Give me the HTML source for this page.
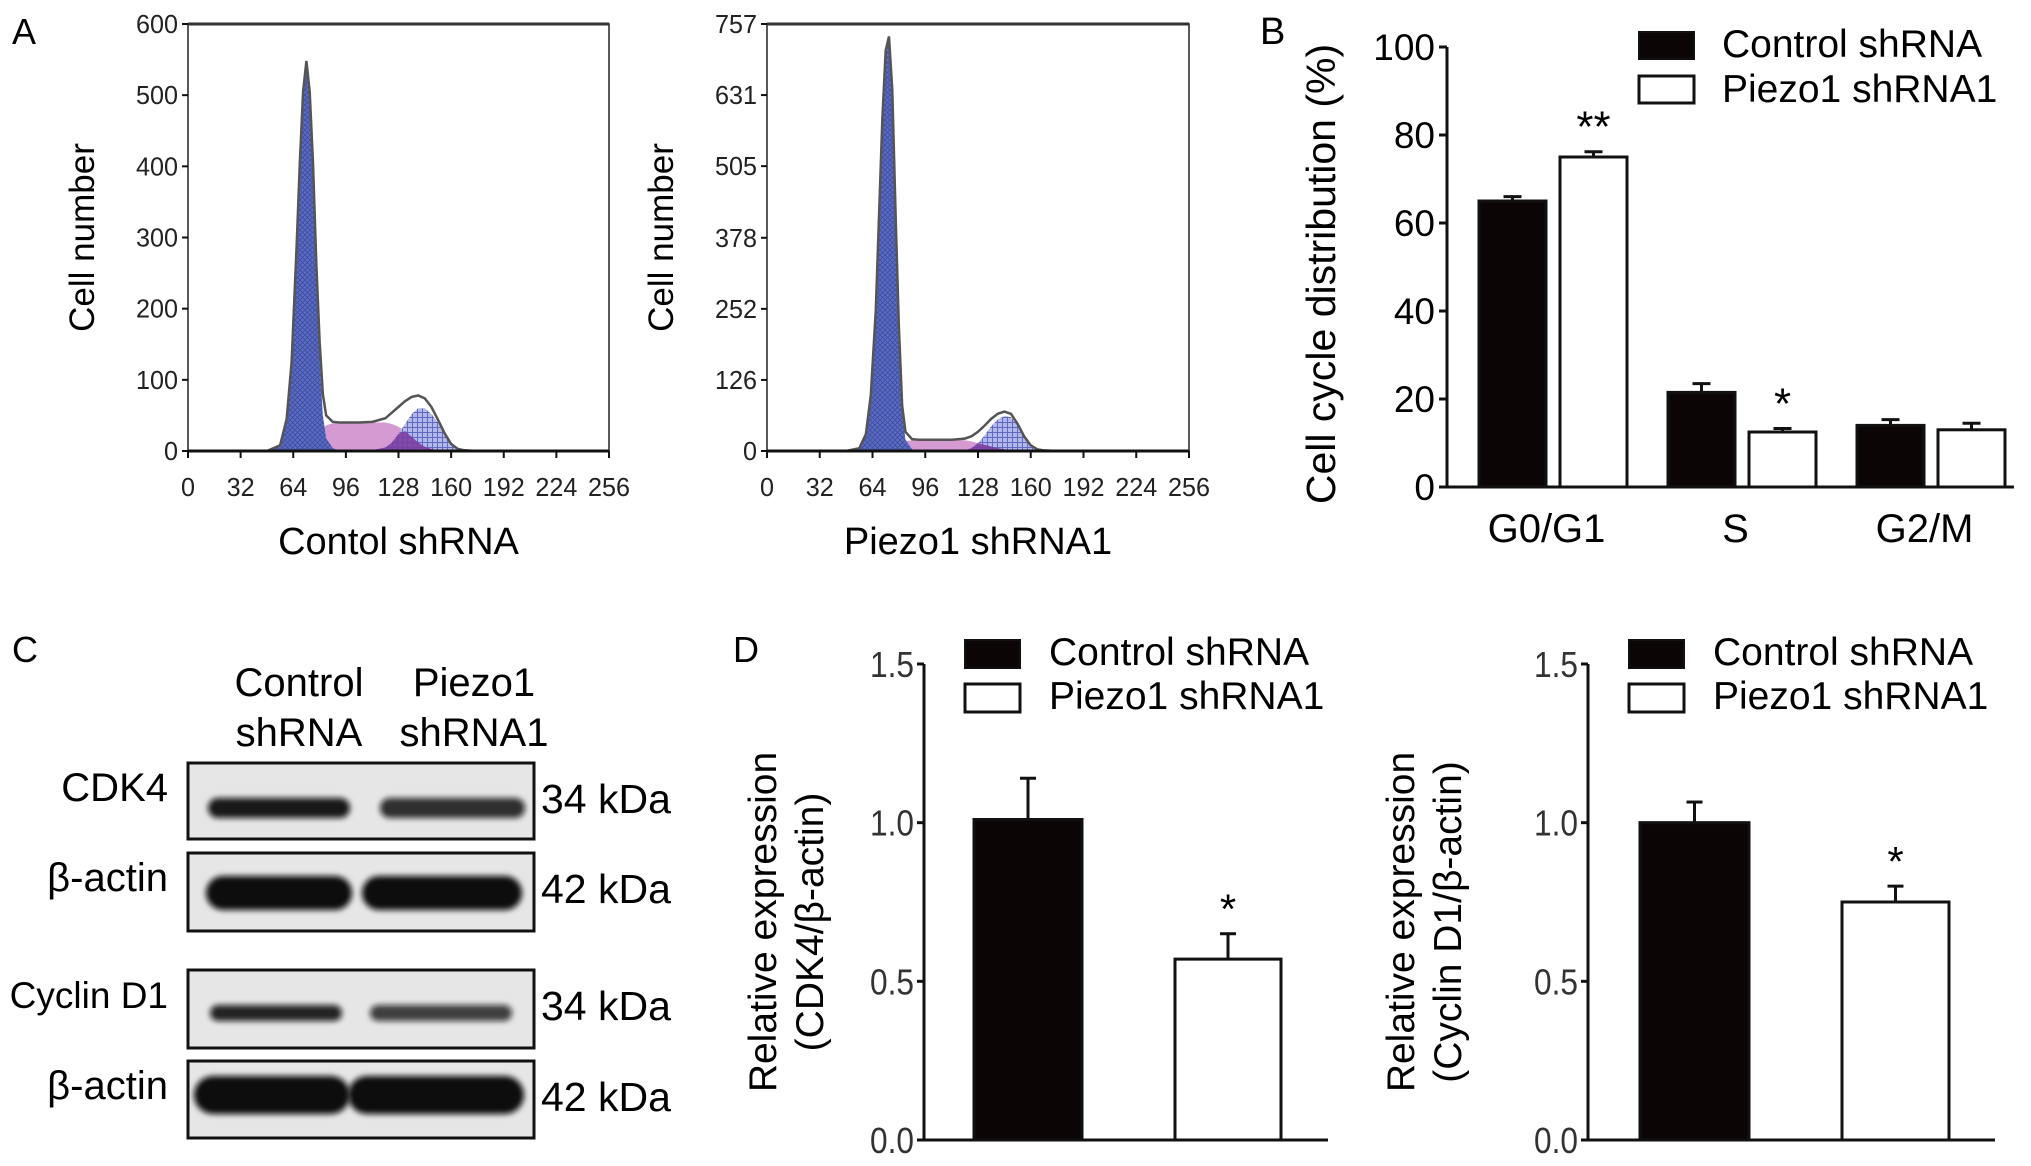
<!DOCTYPE html>
<html><head><meta charset="utf-8"><style>
html,body{margin:0;padding:0;background:#fff;}
svg{display:block;font-family:"Liberation Sans",Arial,sans-serif;}
</style></head><body>
<svg id="fig" width="2031" height="1166" viewBox="0 0 2031 1166" xmlns="http://www.w3.org/2000/svg">
<defs>
<pattern id="hatch" width="5" height="5" patternUnits="userSpaceOnUse"><rect width="5" height="5" fill="#5c6cc4"/><path d="M0 0L5 5M5 0L0 5" stroke="#3e4c9e" stroke-width="0.8"/></pattern>
<pattern id="hatch2" width="5" height="5" patternUnits="userSpaceOnUse"><rect width="5" height="5" fill="#b3b8ea"/><path d="M0 2.5H5M2.5 0V5" stroke="#6068c0" stroke-width="1"/></pattern>
<filter id="blur" x="-20%" y="-100%" width="140%" height="300%"><feGaussianBlur stdDeviation="3"/></filter>
</defs>
<g id="panelA"></g>
<g id="panelB"></g>
<g id="panelC"></g>
<g id="panelD"></g>
</svg>
<script>
// ---------- Panel A data ----------
const channels = [48,56,60,63,66,68,70,72,74,76,78,80,82,84,88,92,96,104,112,120,124,128,132,136,140,144,148,152,156,160,164,168,176,256];
const totalL = [0,8,45,125,285,405,505,548,505,405,265,155,80,50,41,40,40,40,41,46,54,62,70,76,78,74,62,44,25,10,3,1,0,0];
const g1L    = [0,8,45,125,285,405,505,545,495,390,245,130,50,18,4,0,0,0,0,0,0,0,0,0,0,0,0,0,0,0,0,0,0,0];
const sL     = [0,0,0,1,2,4,7,10,14,18,22,26,32,36,39,40,40,40,40,40,38,34,28,20,12,6,3,1,0,0,0,0,0,0];
const g2L    = [0,0,0,0,0,0,0,0,0,0,0,0,0,0,0,0,0,0,1,5,12,24,38,52,60,60,52,40,24,10,3,1,0,0];
const totalR = [0,5,30,100,250,420,590,710,735,640,420,220,80,34,21,20,20,20,20,22,26,34,45,57,66,70,66,48,26,10,3,1,0,0];
const g1R    = [0,5,30,100,250,420,590,705,728,630,405,205,65,20,3,0,0,0,0,0,0,0,0,0,0,0,0,0,0,0,0,0,0,0];
const sR     = [0,0,0,1,1,2,3,5,7,9,11,13,15,17,19,20,20,20,20,19,17,14,11,8,5,3,1,0,0,0,0,0,0,0];
const g2R    = [0,0,0,0,0,0,0,0,0,0,0,0,0,0,0,0,0,0,0,1,5,14,28,44,56,62,60,46,26,10,3,1,0,0];
const xTicksA = [0,32,64,96,128,160,192,224,256];
const yTicksL = [0,100,200,300,400,500,600];
const yTicksR = [0,126,252,378,505,631,757];
// ---------- Panel B data ----------
const phases = ["G0/G1","S","G2/M"];
const ctrlB = [65,21.5,14];
const ctrlBErr = [1,2,1.3];
const piezoB = [75,12.5,13];
const piezoBErr = [1.2,0.8,1.5];
const sigB = ["**","*",""];
const yTicksB = [0,20,40,60,80,100];
// ---------- Panel D data ----------
const dValsCdk4 = [1.01,0.57];
const dErrCdk4 = [0.13,0.08];
const dValsCyc = [1.0,0.75];
const dErrCyc = [0.065,0.05];
const yTicksD = [0.0,0.5,1.0,1.5];
const yTickLabelsD = ["0.0","0.5","1.0","1.5"];

const NS="http://www.w3.org/2000/svg";
function mk(parent,tag,attrs,text){const e=document.createElementNS(NS,tag);for(const k in attrs)e.setAttribute(k,attrs[k]);if(text!==undefined)e.textContent=text;parent.appendChild(e);return e;}

// ---------- Panel A ----------
const A=document.getElementById('panelA');
const lblA=mk(A,'text',{x:12,y:44,'font-size':36},'A');

function histo(x0,x1,y0,y1,ymax,yt,tot,g1,s,g2,title,key){
  const g=mk(A,'g',{});
  
  const sx=c=>x0+(c/256)*(x1-x0);
  const sy=v=>y1-(v/ymax)*(y1-y0);
  const area=(arr,fill,op,name)=>{let d='M'+sx(channels[0])+' '+sy(0);channels.forEach((c,i)=>{d+=' L'+sx(c)+' '+sy(arr[i]);});d+=' L'+sx(channels[channels.length-1])+' '+sy(0)+'Z';
    const p=mk(g,'path',{d:d,fill:fill,'fill-opacity':op,stroke:'none'});return p;};
  area(s,'#d59ad2',1,'s-phase-area');
  area(g2,'url(#hatch2)',1,'g2-phase-area');
  const ov=s.map((v,i)=>Math.min(v,g2[i]));
  area(ov,'#7b3da3',0.9,'s-g2-overlap');
  area(g1,'url(#hatch)',1,'g1-phase-area');
  let d='';channels.forEach((c,i)=>{d+=(i?' L':'M')+sx(c)+' '+sy(tot[i]);});
  const ln=mk(g,'path',{d:d,fill:'none',stroke:'#555',"stroke-width":2.5});
  
  mk(g,'rect',{x:x0,y:y0,width:x1-x0,height:y1-y0,fill:'none',stroke:'#222','stroke-width':1.5});
  mk(g,'line',{x1:x0,y1:y0,x2:x1,y2:y0,stroke:'#333','stroke-width':3});
  mk(g,'line',{x1:x0,y1:y1,x2:x1,y2:y1,stroke:'#111','stroke-width':3});
  xTicksA.forEach(t=>{mk(g,'line',{x1:sx(t),y1:y1,x2:sx(t),y2:y1+7,stroke:'#111','stroke-width':2});
    const tx=mk(g,'text',{x:sx(t),y:y1+45,'font-size':26,'text-anchor':'middle',fill:'#222',textLength:String(t).length*14,lengthAdjust:'spacingAndGlyphs'},String(t));
    });
  yt.forEach(t=>{mk(g,'line',{x1:x0-6,y1:sy(t),x2:x0,y2:sy(t),stroke:'#111','stroke-width':2});
    const tx=mk(g,'text',{x:x0-10,y:sy(t)+9,'font-size':26,'text-anchor':'end',fill:'#222',textLength:String(t).length*14,lengthAdjust:'spacingAndGlyphs'},String(t));
    });
  const yl=mk(g,'text',{x:0,y:0,'font-size':35,'text-anchor':'middle',transform:`translate(${x0-94},${(y0+y1)/2}) rotate(-90)`},'Cell number');
  
  const xt=mk(g,'text',{x:(x0+x1)/2,y:y1+103,'font-size':38,'text-anchor':'middle'},title);
  
}
histo(188,609,24,451,600,yTicksL,totalL,g1L,sL,g2L,'Contol shRNA','control');
histo(767,1189,24,451,757,yTicksR,totalR,g1R,sR,g2R,'Piezo1 shRNA1','piezo1');

// ---------- Panel B ----------
const B=document.getElementById('panelB');
const lblB=mk(B,'text',{x:1260,y:44,'font-size':38},'B');

(function(){
  const x0=1447,x1=2014,y0=47,y1=487,ymax=100;
  const sy=v=>y1-(v/ymax)*(y1-y0);
  const groupW=(x1-x0)/3, bw=67;
  phases.forEach((p,i)=>{
    const gx=x0+i*groupW;
    const cx=gx+32, px=gx+113;
    [[cx,ctrlB[i],ctrlBErr[i],'#0c0506','control'],[px,piezoB[i],piezoBErr[i],'#fff','piezo1']].forEach(([bx,v,e,fill,nm],j)=>{
      mk(B,'line',{x1:bx+bw/2,y1:sy(v),x2:bx+bw/2,y2:sy(v+e),stroke:'#111','stroke-width':3});
      mk(B,'line',{x1:bx+bw/2-9,y1:sy(v+e),x2:bx+bw/2+9,y2:sy(v+e),stroke:'#111','stroke-width':3});
      const r=mk(B,'rect',{x:bx,y:sy(v),width:bw,height:y1-sy(v),fill:fill,stroke:'#111','stroke-width':3});
      
      if(j===1&&sigB[i]){const s=mk(B,'text',{x:bx+bw/2,y:sy(v+e)-10,'font-size':44,'text-anchor':'middle'},sigB[i]);
        }
    });
    const t=mk(B,'text',{x:gx+groupW/2+5,y:542,'font-size':40,'text-anchor':'middle'},p);
    
  });
  mk(B,'line',{x1:x0,y1:y0,x2:x0,y2:y1,stroke:'#111','stroke-width':3});
  mk(B,'line',{x1:x0,y1:y1,x2:x1,y2:y1,stroke:'#111','stroke-width':3});
  yTicksB.forEach(t=>{mk(B,'line',{x1:x0-8,y1:sy(t),x2:x0,y2:sy(t),stroke:'#111','stroke-width':3});
    const tx=mk(B,'text',{x:x0-12,y:sy(t)+13,'font-size':37,'text-anchor':'end'},String(t));
    });
  const yl=mk(B,'text',{x:0,y:0,'font-size':41,'text-anchor':'middle',transform:`translate(1335,${(y0+y1)/2+7}) rotate(-90)`},'Cell cycle distribution (%)');
  
  const l1=mk(B,'rect',{x:1639,y:32,width:55,height:27,fill:'#0c0506',stroke:'#111','stroke-width':2});
  
  const l2=mk(B,'rect',{x:1639,y:76,width:55,height:27,fill:'#fff',stroke:'#111','stroke-width':3});
  
  const t1=mk(B,'text',{x:1722,y:57,'font-size':39},'Control shRNA');
  
  const t2=mk(B,'text',{x:1722,y:102,'font-size':39},'Piezo1 shRNA1');
  
})();

// ---------- Panel C ----------
const C=document.getElementById('panelC');
const lblC=mk(C,'text',{x:12,y:662,'font-size':36},'C');

[['Control',299,696],['shRNA',299,746],['Piezo1',474,696],['shRNA1',474,746]].forEach(([t,x,y])=>{
  const e=mk(C,'text',{x:x,y:y,'font-size':40,'text-anchor':'middle'},t);
  });
const blots=[
  {name:'CDK4',kda:'34 kDa',y:763,h:76,band:808,th:20,fs:40,a:[208,350,0.95],b:[380,525,0.85]},
  {name:'β-actin',kda:'42 kDa',y:853,h:78,band:893,th:34,fs:40,a:[206,352,1],b:[362,522,1]},
  {name:'Cyclin D1',kda:'34 kDa',y:970,h:78,band:1013,th:16,fs:37,a:[210,342,0.9],b:[370,512,0.78]},
  {name:'β-actin',kda:'42 kDa',y:1061,h:77,band:1095,th:38,fs:40,a:[194,350,1],b:[348,524,1]}
];
blots.forEach(bl=>{
  const g=mk(C,'g',{});
  
  
  mk(g,'rect',{x:188,y:bl.y,width:346,height:bl.h,fill:'#e6e6e6'});
  [bl.a,bl.b].forEach(([xa,xb,op])=>{
    mk(g,'rect',{x:xa,y:bl.band-bl.th/2,width:xb-xa,height:bl.th,rx:bl.th/2,fill:'#0a0a0a','fill-opacity':op,filter:'url(#blur)'});
  });
  mk(g,'rect',{x:188,y:bl.y,width:346,height:bl.h,fill:'none',stroke:'#111','stroke-width':3});
  const l=mk(g,'text',{x:168,y:bl.y+38,'font-size':bl.fs,'text-anchor':'end'},bl.name);
  
  const k=mk(g,'text',{x:541,y:bl.y+50,'font-size':41},bl.kda);
  
});

// ---------- Panel D ----------
const D=document.getElementById('panelD');
const lblD=mk(D,'text',{x:733,y:662,'font-size':36},'D');

function dchart(x0,x1,bars,vals,errs,t1,t2,tx1,tx2,lx,key){
  const g=mk(D,'g',{});
  
  const y0=664,y1=1140,ymax=1.5;
  const sy=v=>y1-(v/ymax)*(y1-y0);
  vals.forEach((v,i)=>{
    const [bx,bw]=bars[i];const e=errs[i];
    mk(g,'line',{x1:bx+bw/2,y1:sy(v),x2:bx+bw/2,y2:sy(v+e),stroke:'#111','stroke-width':3});
    mk(g,'line',{x1:bx+bw/2-8,y1:sy(v+e),x2:bx+bw/2+8,y2:sy(v+e),stroke:'#111','stroke-width':3});
    const r=mk(g,'rect',{x:bx,y:sy(v),width:bw,height:y1-sy(v),fill:i?'#fff':'#0c0506',stroke:'#111','stroke-width':3});
    
    if(i===1){const s=mk(g,'text',{x:bx+bw/2,y:sy(v+e)-10,'font-size':42,'text-anchor':'middle'},'*');
      }
  });
  mk(g,'line',{x1:x0,y1:y0,x2:x0,y2:y1,stroke:'#111','stroke-width':3});
  mk(g,'line',{x1:x0,y1:y1,x2:x1,y2:y1,stroke:'#111','stroke-width':3});
  yTicksD.forEach((t,i)=>{mk(g,'line',{x1:x0-7,y1:sy(t),x2:x0,y2:sy(t),stroke:'#111','stroke-width':3});
    const tx=mk(g,'text',{x:x0-10,y:sy(t)+13,'font-size':36,'text-anchor':'end',fill:'#333',textLength:44,lengthAdjust:'spacingAndGlyphs'},yTickLabelsD[i]);
    });
  const cy=(y0+y1)/2+20;
  const a=mk(g,'text',{x:0,y:0,'font-size':39,'text-anchor':'middle',transform:`translate(${tx1},${cy}) rotate(-90)`},t1);
  
  const b=mk(g,'text',{x:0,y:0,'font-size':39,'text-anchor':'middle',transform:`translate(${tx2},${cy}) rotate(-90)`},t2);
  
  const s1=mk(g,'rect',{x:lx,y:640,width:55,height:28,fill:'#0c0506',stroke:'#111','stroke-width':2});
  
  const s2=mk(g,'rect',{x:lx,y:684,width:55,height:28,fill:'#fff',stroke:'#111','stroke-width':3});
  
  const e1=mk(g,'text',{x:lx+84,y:665,'font-size':39},'Control shRNA');
  
  const e2=mk(g,'text',{x:lx+84,y:709,'font-size':39},'Piezo1 shRNA1');
  
}
dchart(924,1328,[[974,108],[1175,106]],dValsCdk4,dErrCdk4,'Relative expression','(CDK4/β-actin)',776,823,965,'cdk4');
dchart(1588,1995,[[1640,109],[1842,107]],dValsCyc,dErrCyc,'Relative expression','(Cyclin D1/β-actin)',1414,1461,1629,'cyclin-d1');
</script>
</body></html>
